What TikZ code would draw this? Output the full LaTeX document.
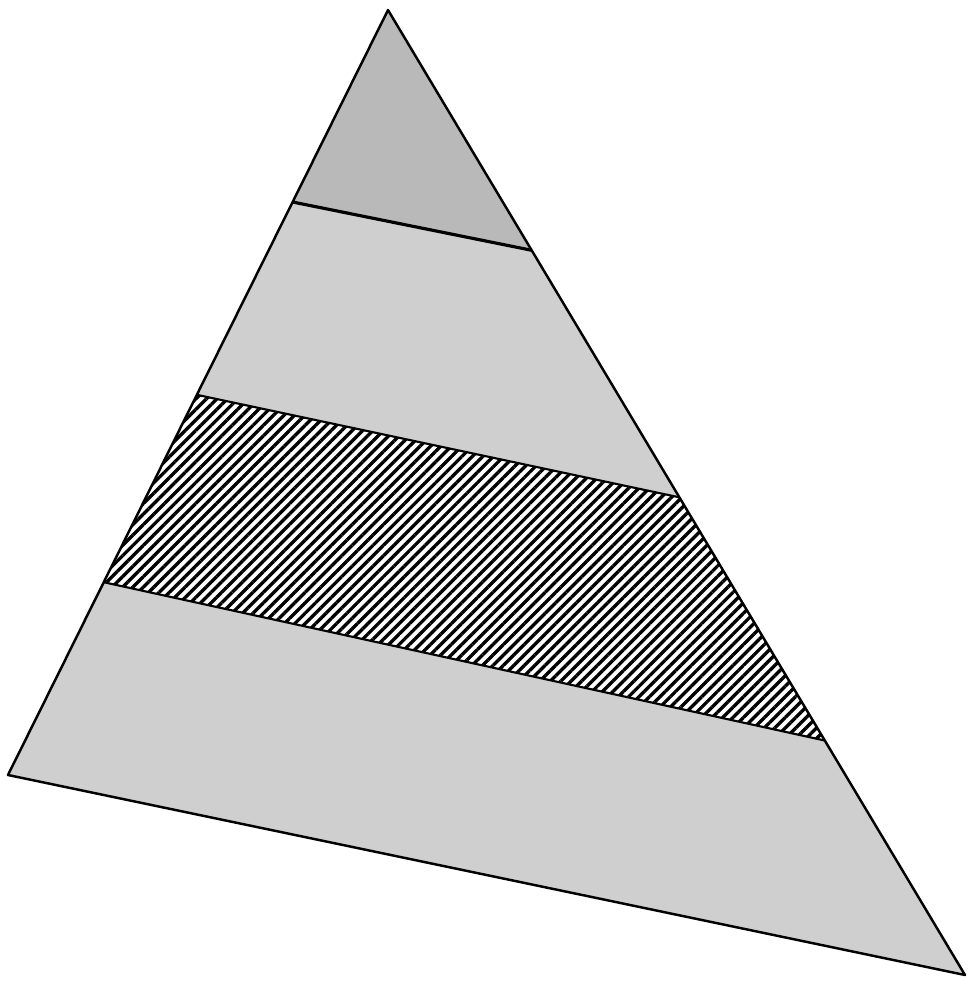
\documentclass[tikz,border=0pt]{standalone}
\usetikzlibrary{calc,patterns.meta}

\begin{document}
\begin{tikzpicture}[x=0.02cm, y=-0.02cm, line join=round]
  \useasboundingbox (0,0) rectangle (968,981);
  % corners of the triangle
  \coordinate (T) at (388,10);
  \coordinate (L) at (8,775);
  \coordinate (R) at (965,975);
  % band borders on the left and right sides
  \coordinate (L1) at ($(T)!0.251!(L)$);
  \coordinate (R1) at ($(T)!0.249!(R)$);
  \coordinate (L2) at ($(T)!0.503!(L)$);
  \coordinate (R2) at ($(T)!0.505!(R)$);
  \coordinate (L3) at ($(T)!0.748!(L)$);
  \coordinate (R3) at ($(T)!0.757!(R)$);
  % top band, darker
  \fill[gray!55] (T) -- (L1) -- (R1) -- cycle;
  % light bands
  \fill[gray!38] (L1) -- (L2) -- (R2) -- (R1) -- cycle;
  \fill[gray!38] (L3) -- (L) -- (R) -- (R3) -- cycle;
  % hatched band
  \fill[pattern={Lines[angle=45, distance=4.2pt, line width=1.9pt]}]
    (L2) -- (L3) -- (R3) -- (R2) -- cycle;
  % outline and borders
  \draw[line width=1.8pt] (L1) -- (R1);
  \draw[line width=1.2pt] (L2) -- (R2);
  \draw[line width=1.2pt] (L3) -- (R3);
  \draw[line width=1.4pt] (T) -- (L) -- (R) -- cycle;
\end{tikzpicture}
\end{document}
